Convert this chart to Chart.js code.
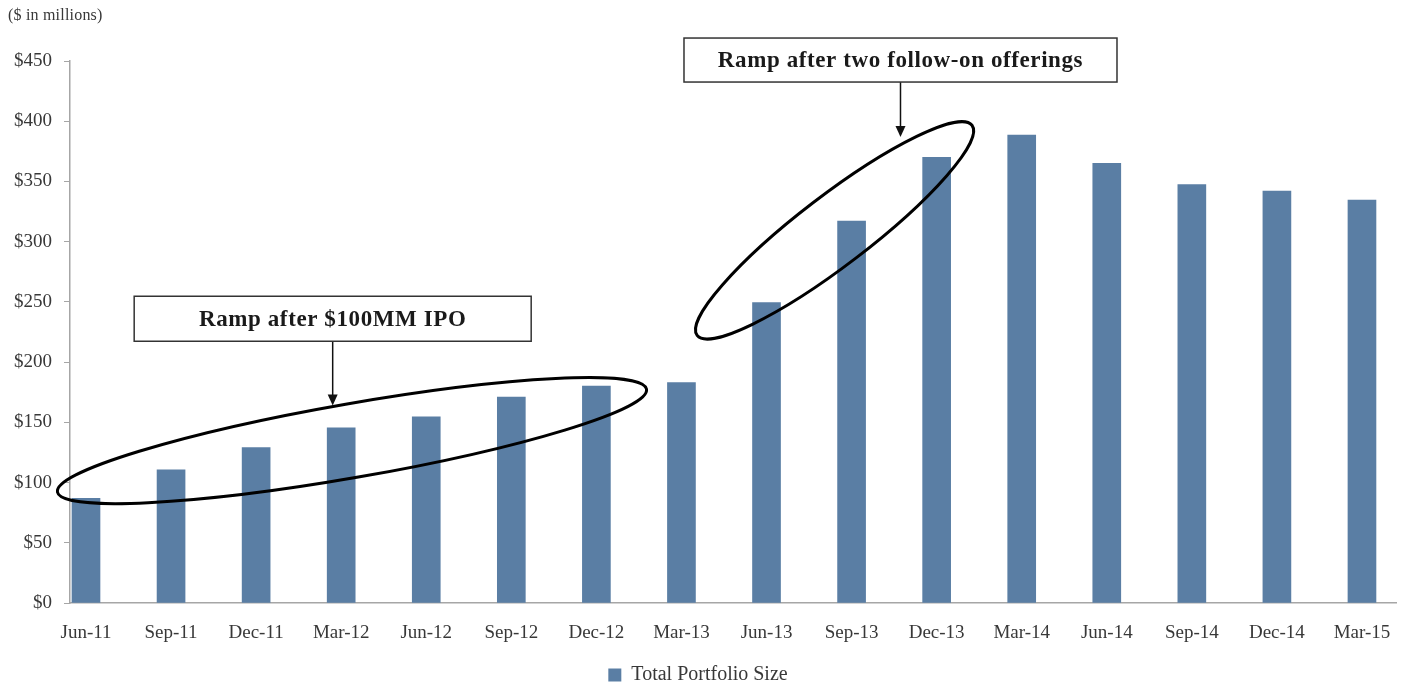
<!DOCTYPE html>
<html>
<head>
<meta charset="utf-8">
<script src="https://cdn.jsdelivr.net/npm/chart.js@4.4.1/dist/chart.umd.min.js"></script>
<style>
  html, body { margin: 0; padding: 0; background: #fff; }
  #wrap { position: relative; width: 1411px; height: 683px; }
</style>
</head>
<body>
<div id="wrap"><canvas id="chart" width="1411" height="683"></canvas></div>
<script>
// Quarter-end labels and portfolio size ($ in millions)
const quarters = ['Jun-11', 'Sep-11', 'Dec-11', 'Mar-12', 'Jun-12', 'Sep-12', 'Dec-12', 'Mar-13',
  'Jun-13', 'Sep-13', 'Dec-13', 'Mar-14', 'Jun-14', 'Sep-14', 'Dec-14', 'Mar-15']
const portfolioSize = [87, 110.5, 129, 145.5, 154.5, 171, 180, 183, 249.5, 317, 370, 388.5, 365, 347.5, 342, 334.5]
const seriesName = 'Total Portfolio Size'
const yMax = 450
const yStep = 50

// Call-out notes, anchored in data units (x = quarter index, y = $MM)
const callouts = [
  { text: 'Ramp after $100MM IPO', x: 2.9, y: 236, w: 397, h: 45, arrowTo: 164 },
  { text: 'Ramp after two follow-on offerings', x: 9.575, y: 450.8, w: 433, h: 44, arrowTo: 387 }
]
const rings = [
  { x: 3.127, y: 134.8, rx: 299, ry: 37, angle: -9.9 },
  { x: 8.8, y: 309.4, rx: 173, ry: 35, angle: -37.4 }
]

const serif = "'Liberation Serif', 'Times New Roman', serif"
const textColor = '#383838'
const axisColor = '#a6a6a6'
const barColor = '#5a7ea4'

const calloutPlugin = {
  id: 'callouts',
  afterDatasetsDraw(chart) {
    const { ctx, scales: { x, y } } = chart
    ctx.save()

    // ellipses round the ramps
    ctx.strokeStyle = '#000'
    ctx.lineWidth = 3
    rings.forEach(r => {
      ctx.beginPath()
      ctx.ellipse(x.getPixelForValue(r.x), y.getPixelForValue(r.y), r.rx, r.ry, r.angle * Math.PI / 180, 0, Math.PI * 2)
      ctx.stroke()
    })

    // boxes with arrows
    callouts.forEach(c => {
      const cx = x.getPixelForValue(c.x)
      const cy = y.getPixelForValue(c.y)
      const tipY = y.getPixelForValue(c.arrowTo)

      ctx.strokeStyle = '#111'
      ctx.fillStyle = '#111'
      ctx.lineWidth = 1.5
      ctx.beginPath()
      ctx.moveTo(cx, cy + c.h / 2)
      ctx.lineTo(cx, tipY - 8)
      ctx.stroke()
      ctx.beginPath()
      ctx.moveTo(cx, tipY)
      ctx.lineTo(cx - 5, tipY - 11)
      ctx.lineTo(cx + 5, tipY - 11)
      ctx.closePath()
      ctx.fill()

      ctx.fillStyle = '#fff'
      ctx.fillRect(cx - c.w / 2, cy - c.h / 2, c.w, c.h)
      ctx.strokeStyle = '#333'
      ctx.strokeRect(cx - c.w / 2, cy - c.h / 2, c.w, c.h)

      ctx.fillStyle = '#1a1a1a'
      ctx.font = 'bold 23px ' + serif
      ctx.letterSpacing = '0.6px'
      ctx.textAlign = 'center'
      ctx.textBaseline = 'middle'
      ctx.fillText(c.text, cx, cy + 1)
    })

    // units caption top left
    ctx.fillStyle = textColor
    ctx.font = '16px ' + serif
    ctx.letterSpacing = '0.2px'
    ctx.textAlign = 'left'
    ctx.textBaseline = 'middle'
    ctx.fillText('($ in millions)', 8, 16)

    ctx.restore()
  }
}

new Chart(document.getElementById('chart'), {
  type: 'bar',
  data: {
    datasets: [{
      label: seriesName,
      data: portfolioSize.map((v, i) => ({ x: i, y: v })),
      backgroundColor: barColor,
      barThickness: 28
    }]
  },
  options: {
    responsive: false,
    animation: false,
    layout: { padding: { top: 61, left: 0, right: 15, bottom: -12 } },
    plugins: {
      tooltip: { enabled: false },
      legend: {
        position: 'bottom',
        labels: {
          boxWidth: 13,
          boxHeight: 13,
          color: textColor,
          font: { family: serif, size: 20 }
        }
      }
    },
    scales: {
      x: {
        type: 'linear',
        offset: false,
        min: -0.188,
        max: 15.4,
        afterBuildTicks(scale) {
          scale.ticks = quarters.map((q, i) => ({ value: i }))
        },
        afterFit(scale) { scale.height = 52 },
        ticks: {
          callback: v => quarters[v],
          autoSkip: false,
          maxRotation: 0,
          padding: 19,
          color: textColor,
          font: { family: serif, size: 19 }
        },
        grid: { offset: false, drawOnChartArea: false, drawTicks: false },
        border: { color: axisColor, width: 1.5 }
      },
      y: {
        min: 0,
        max: yMax,
        afterFit(scale) { scale.width = 70 },
        ticks: {
          stepSize: yStep,
          padding: 12,
          callback: v => '$' + v,
          color: textColor,
          font: { family: serif, size: 19 }
        },
        grid: { drawOnChartArea: false, tickLength: 6, color: axisColor },
        border: { color: axisColor, width: 1.5 }
      }
    }
  },
  plugins: [calloutPlugin]
})
</script>
</body>
</html>
